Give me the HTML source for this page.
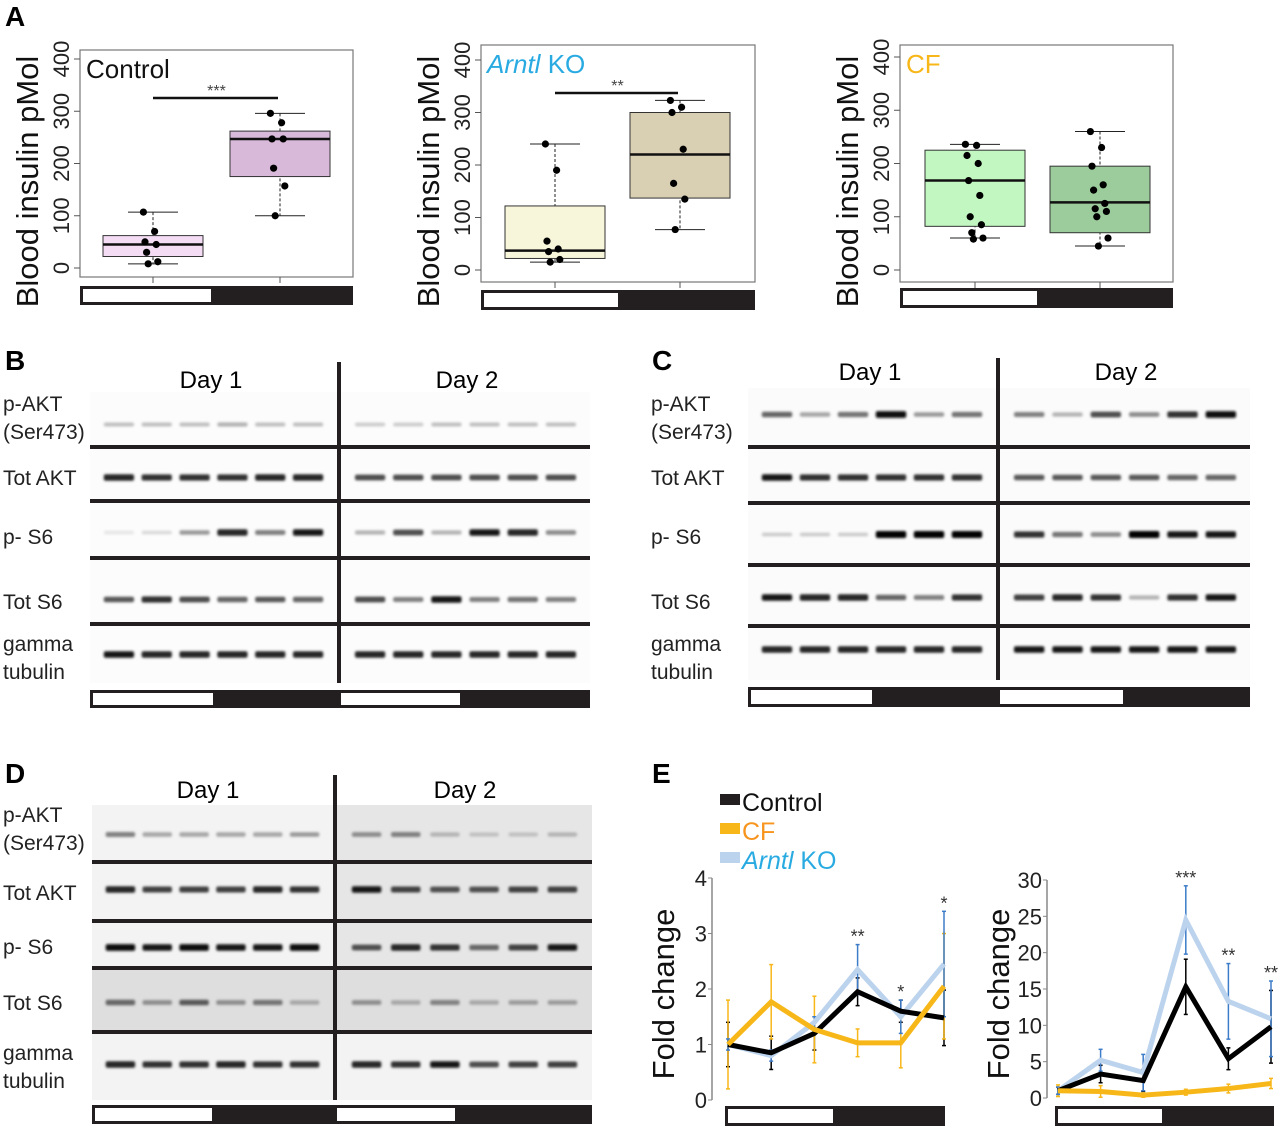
<!DOCTYPE html>
<html><head><meta charset="utf-8"><style>
html,body{margin:0;padding:0;background:#fff}
svg{display:block;font-family:"Liberation Sans",sans-serif}
</style></head><body>
<svg id="fig" width="1280" height="1128" viewBox="0 0 1280 1128" xmlns="http://www.w3.org/2000/svg">
<defs>
<filter id="blur" x="-20%" y="-100%" width="140%" height="300%"><feGaussianBlur stdDeviation="1.4"/></filter>
</defs>
<g id="panelA"></g>
<g id="blots"></g>
<g id="panelE"></g>
</svg>
<script>
const NS="http://www.w3.org/2000/svg";
function mk(tag,attrs,parent,txt){const e=document.createElementNS(NS,tag);for(const k in attrs)e.setAttribute(k,attrs[k]);if(txt!==undefined)e.textContent=txt;parent.appendChild(e);return e;}

// ===== Panel A data =====
const aGroups=["Control","Arntl KO","CF"];
const aQ1=[[22,175],[22,137],[82,70]];
const aMed=[[45,247],[37,220],[168,127]];
const aQ3=[[62,262],[122,300],[225,195]];
const aLo=[[8,100],[15,77],[60,45]];
const aHi=[[107,296],[240,323],[236,260]];
const aPts=[
 [[107,70,50,45,30,12,8],[296,278,247,247,191,157,100]],
 [[240,190,55,40,35,20,15],[323,310,300,230,165,135,77]],
 [[236,234,215,200,168,140,100,85,70,60,58],[260,230,195,160,150,125,115,110,100,60,45]]
];
const aSig=["***","**",""];
const aTicks=[0,100,200,300,400];
const aFill=[["#f4dcf4","#d9b9d9"],["#f8f6da","#d9cfb2"],["#c2f7c2","#9ccb9c"]];
const aTitleColor=["#111","#29abe2","#f7b718"];

const A=document.getElementById('panelA');
mk('text',{x:5,y:26,'font-size':28,'font-weight':'bold',},A,'A');
const aLayout=[{x0:80,x1:353,yt:50,yb:277,z:268,t:59,cx:[153,280],bar:[286,305,211]},
 {x0:481,x1:755,yt:45,yb:282,z:270,t:60,cx:[555,680],bar:[290,310,618]},
 {x0:900,x1:1173,yt:45,yb:282,z:270,t:57,cx:[975,1100],bar:[288,308,1037]}];
aLayout.forEach((L,g)=>{
  const G=mk('g',{},A);
  
  
  const y=v=>L.z-(L.z-L.t)*v/400;
  mk('rect',{x:L.x0,y:L.yt,width:L.x1-L.x0,height:L.yb-L.yt,fill:'none',stroke:'#777','stroke-width':1.2},G);
  aTicks.forEach(t=>{
    mk('line',{x1:L.x0-6,x2:L.x0,y1:y(t),y2:y(t),stroke:'#555'},G);
    const tx=mk('text',{x:L.x0-11,y:y(t),'font-size':22,'text-anchor':'middle',transform:`rotate(-90 ${L.x0-11} ${y(t)})`,fill:'#222'},G,t);
    
    
  });
  L.cx.forEach(c=>mk('line',{x1:c,x2:c,y1:L.yb,y2:L.yb+6,stroke:'#555'},G));
  const yc=(L.yt+L.yb)/2+18;
  const yl=mk('text',{x:L.x0-42,y:yc,'font-size':31,'text-anchor':'middle',transform:`rotate(-90 ${L.x0-42} ${yc})`,fill:'#111'},G,'Blood insulin pMol');
  
  
  const tt=mk('text',{x:L.x0+6,y:L.yt+28,'font-size':26,fill:aTitleColor[g]},G);
  
  
  if(g===1){mk('tspan',{'font-style':'italic'},tt,'Arntl');mk('tspan',{},tt,' KO');}else tt.textContent=aGroups[g];
  if(aSig[g]){
    mk('line',{x1:L.cx[0],x2:L.cx[1]-2,y1:L.yt+48,y2:L.yt+48,stroke:'#111','stroke-width':2.5},G);
    mk('text',{x:(L.cx[0]+L.cx[1])/2,y:L.yt+46,'font-size':16,'text-anchor':'middle',fill:'#444'},G,aSig[g]);
  }
  [0,1].forEach(k=>{
    const c=L.cx[k],hw=50;
    mk('line',{x1:c,x2:c,y1:y(aHi[g][k]),y2:y(aLo[g][k]),stroke:'#222','stroke-dasharray':'3,2'},G);
    mk('line',{x1:c-25,x2:c+25,y1:y(aHi[g][k]),y2:y(aHi[g][k]),stroke:'#222'},G);
    mk('line',{x1:c-25,x2:c+25,y1:y(aLo[g][k]),y2:y(aLo[g][k]),stroke:'#222'},G);
    const b=mk('rect',{x:c-hw,y:y(aQ3[g][k]),width:hw*2,height:y(aQ1[g][k])-y(aQ3[g][k]),fill:aFill[g][k],stroke:'#333'},G);
    
    
    mk('line',{x1:c-hw,x2:c+hw,y1:y(aMed[g][k]),y2:y(aMed[g][k]),stroke:'#111','stroke-width':2.5},G);
    aPts[g][k].forEach((v,i)=>{
      const p=mk('circle',{cx:c+((i*7)%13-6)*1.6,cy:y(v),r:3.6,fill:'#000'},G);
      
      
    });
  });
  mk('rect',{x:L.x0,y:L.bar[0],width:L.x1-L.x0,height:L.bar[1]-L.bar[0],fill:'#231f20'},G);
  mk('rect',{x:L.x0+3,y:L.bar[0]+3,width:L.bar[2]-L.x0-3,height:L.bar[1]-L.bar[0]-6,fill:'#fff'},G);
});

// ===== Blots =====
const rowNames=[["p-AKT","(Ser473)"],["Tot AKT"],["p- S6"],["Tot S6"],["gamma","tubulin"]];
const blotB=[[.25,.25,.25,.3,.25,.25,.2,.2,.25,.25,.25,.25],[.85,.8,.8,.8,.85,.85,.7,.7,.7,.7,.7,.7],[.1,.15,.4,.85,.5,.9,.3,.7,.3,.9,.85,.45],[.65,.8,.7,.6,.65,.6,.7,.5,.9,.5,.55,.5],[.9,.85,.85,.85,.85,.85,.85,.85,.85,.85,.85,.85]];
const blotC=[[.6,.35,.55,.95,.4,.55,.5,.3,.7,.45,.8,.95],[.9,.8,.8,.8,.8,.8,.65,.65,.65,.65,.6,.6],[.2,.2,.2,1,1,1,.8,.55,.45,1,.9,.9],[.9,.85,.85,.6,.5,.8,.75,.85,.8,.3,.8,.9],[.85,.85,.85,.85,.85,.85,.9,.9,.9,.9,.9,.9]];
const blotD=[[.5,.35,.35,.35,.35,.4,.45,.5,.3,.25,.25,.3],[.85,.75,.75,.75,.85,.8,.9,.75,.7,.7,.75,.75],[.95,.9,.95,.9,.9,.95,.7,.85,.8,.6,.75,.9],[.6,.45,.65,.45,.55,.35,.45,.35,.5,.35,.4,.4],[.85,.8,.8,.85,.8,.8,.85,.8,.9,.7,.75,.75]];
const BL=document.getElementById('blots');
const blotLayouts=[
 {name:'b',lab:'B',lx:5,ly:370,x0:90,x1:590,mid:339,top:362,bot:683,seps:[447,501,558,624],bands:[425,478,533,600,655],labx:3,laby:[404,478,537,602,644],day:[211,467,380],bar:[690,708,213,460],data:blotB,bg:'#fcfcfc'},
 {name:'c',lab:'C',lx:652,ly:370,x0:748,x1:1250,mid:998,top:358,bot:680,seps:[447,503,565,626],bands:[415,478,535,598,650],labx:651,laby:[404,478,537,602,644],day:[870,1126,372],bar:[687,707,872,1123],data:blotC,bg:'#fbfbfb'},
 {name:'d',lab:'D',lx:5,ly:783,x0:92,x1:592,mid:335,top:775,bot:1100,seps:[862,921,968,1032],bands:[835,890,948,1003,1065],labx:3,laby:[815,893,947,1003,1053],day:[208,465,790],bar:[1105,1124,212,455],data:blotD,bg:'#f3f3f3'}
];
blotLayouts.forEach(P=>{
  const G=mk('g',{},BL);
  
  
  mk('text',{x:P.lx,y:P.ly,'font-size':28,'font-weight':'bold'},G,P.lab);
  mk('rect',{x:P.x0,y:P.top+30,width:P.x1-P.x0,height:P.bot-P.top-30,fill:P.bg},G);
  if(P.name==='d'){mk('rect',{x:P.mid,y:P.top+30,width:P.x1-P.mid,height:P.seps[3]-P.top-30,fill:'#e6e6e6'},G);mk('rect',{x:P.x0,y:P.seps[2],width:P.x1-P.x0,height:P.seps[3]-P.seps[2],fill:'#dedede'},G);}
  const lanes=[];
  for(let d=0;d<2;d++){const a=d?P.mid+12:P.x0+10,b=d?P.x1-10:P.mid-12,w=(b-a)/6;for(let i=0;i<6;i++)lanes.push(a+w*(i+.5));}
  const lw=(P.mid-P.x0-22)/6*0.8;
  P.data.forEach((row,r)=>{
    row.forEach((v,i)=>{
      const g=Math.round(255*(1-v));
      const band=mk('rect',{x:lanes[i]-lw/2,y:P.bands[r]-2-v*2,width:lw,height:3+v*4,rx:2,fill:`rgb(${g},${g},${g})`,filter:'url(#blur)'},G);
      
      
    });
    rowNames[r].forEach((t,j)=>{
      const tx=mk('text',{x:P.labx,y:P.laby[r]+j*28+7,'font-size':21,fill:'#222'},G,t);
      
      
    });
  });
  P.seps.forEach(s=>mk('line',{x1:P.x0,x2:P.x1,y1:s,y2:s,stroke:'#231f20','stroke-width':4},G));
  mk('line',{x1:P.mid,x2:P.mid,y1:P.top,y2:P.bot,stroke:'#231f20','stroke-width':4},G);
  mk('text',{x:P.day[0],y:P.day[2]+8,'font-size':24,'text-anchor':'middle'},G,'Day 1');
  mk('text',{x:P.day[1],y:P.day[2]+8,'font-size':24,'text-anchor':'middle'},G,'Day 2');
  mk('rect',{x:P.x0,y:P.bar[0],width:P.x1-P.x0,height:P.bar[1]-P.bar[0],fill:'#231f20'},G);
  mk('rect',{x:P.x0+3,y:P.bar[0]+3,width:P.bar[2]-P.x0-3,height:P.bar[1]-P.bar[0]-6,fill:'#fff'},G);
  mk('rect',{x:P.mid+2,y:P.bar[0]+3,width:P.bar[3]-P.mid-2,height:P.bar[1]-P.bar[0]-6,fill:'#fff'},G);
});

// ===== Panel E data =====
const eSeries=["Control","CF","Arntl KO"];
const eColors=["#000","#f7b718","#bcd3ee"];
const eErrColors=["#000","#f7b718","#3d7cc9"];
const leftCtrl=[1,0.85,1.2,1.95,1.6,1.48];
const leftCF=[1,1.77,1.27,1.03,1.03,2.05];
const leftArntl=[1,0.8,1.4,2.35,1.5,2.45];
const leftCtrlErr=[0.4,0.3,0.3,0.25,0.2,0.5];
const leftCFErr=[0.8,0.67,0.6,0.25,0.45,0.95];
const leftArntlErr=[0.1,0.1,0.1,0.45,0.3,0.95];
const rightCtrl=[1,3.3,2.4,15.3,5.4,9.8];
const rightCF=[1,0.9,0.4,0.8,1.3,2.0];
const rightArntl=[1,5.2,3.5,24.5,13.3,10.9];
const rightCtrlErr=[0.5,1.2,1.5,3.8,1.5,5];
const rightCFErr=[0.8,0.8,0.3,0.4,0.6,0.7];
const rightArntlErr=[0.5,1.5,2.5,4.7,5.2,5.2];
const leftTicks=[0,1,2,3,4];
const rightTicks=[0,5,10,15,20,25,30];
const leftStars=["","","","**","*","*"];
const rightStars=["","","","***","**","**"];

const E=document.getElementById('panelE');
mk('text',{x:652,y:783,'font-size':28,'font-weight':'bold'},E,'E');
const leg=mk('g',{},E);


[["Control","#231f20","#111"],["CF","#f7b718","#f7941d"],["Arntl KO","#bcd3ee","#29abe2"]].forEach((l,i)=>{
  const yy=803+i*29;
  mk('rect',{x:720,y:yy-9,width:20,height:11,fill:l[1]},leg);
  const t=mk('text',{x:742,y:yy+8,'font-size':25,fill:l[2]},leg);
  
  
  if(i===2){mk('tspan',{'font-style':'italic'},t,'Arntl');mk('tspan',{},t,' KO');}else t.textContent=l[0];
});
function lineChart(name,ax,x0,dx,yz,yt,maxv,ticks,series,errs,stars,bar){
  const G=mk('g',{},E);
  
  
  const X=i=>x0+dx*i, Y=v=>yz-(yz-yt)*v/maxv;
  mk('line',{x1:ax,x2:ax,y1:yt,y2:yz,stroke:'#888','stroke-width':1.5},G);
  ticks.forEach(t=>{
    mk('line',{x1:ax-4,x2:ax,y1:Y(t),y2:Y(t),stroke:'#888'},G);
    const tx=mk('text',{x:ax-5,y:Y(t)+8,'font-size':22,'text-anchor':'end',fill:'#222'},G,t);
    
    
  });
  const yc=(yt+yz)/2+5, xl=ax-38;
  const yl=mk('text',{x:xl,y:yc,'font-size':31,'text-anchor':'middle',transform:`rotate(-90 ${xl} ${yc})`,fill:'#111'},G,'Fold change');
  
  
  series.forEach((s,k)=>{
    s.forEach((v,i)=>{
      const e=errs[k][i];
      mk('line',{x1:X(i),x2:X(i),y1:Y(v+e),y2:Y(Math.max(0,v-e)),stroke:eErrColors[k],'stroke-width':1.5},G);
      mk('line',{x1:X(i)-2,x2:X(i)+2,y1:Y(v+e),y2:Y(v+e),stroke:eErrColors[k],'stroke-width':1.5},G);
      mk('line',{x1:X(i)-2,x2:X(i)+2,y1:Y(Math.max(0,v-e)),y2:Y(Math.max(0,v-e)),stroke:eErrColors[k],'stroke-width':1.5},G);
    });
  });
  [2,0,1].forEach(k=>{
    const p=mk('polyline',{points:series[k].map((v,i)=>X(i)+','+Y(v)).join(' '),fill:'none',stroke:eColors[k],'stroke-width':5,'stroke-linejoin':'miter'},G);
    
    
  });
  stars.forEach((s,i)=>{
    if(!s)return;
    const top=Math.max(...series.map((ser,k)=>ser[i]+errs[k][i]));
    mk('text',{x:X(i),y:Y(top)-2,'font-size':18,'text-anchor':'middle',fill:'#333'},G,s);
  });
  mk('rect',{x:bar[0],y:bar[2],width:bar[1]-bar[0],height:bar[3]-bar[2],fill:'#231f20'},G);
  mk('rect',{x:bar[0]+3,y:bar[2]+3,width:bar[4]-bar[0]-3,height:bar[3]-bar[2]-6,fill:'#fff'},G);
}
lineChart('fold-change-chart-left',712,728,43.2,1100,878,4,leftTicks,[leftCtrl,leftCF,leftArntl],[leftCtrlErr,leftCFErr,leftArntlErr],leftStars,[725,945,1106,1126,833]);
lineChart('fold-change-chart-right',1047,1058,42.6,1098,880,30,rightTicks,[rightCtrl,rightCF,rightArntl],[rightCtrlErr,rightCFErr,rightArntlErr],rightStars,[1055,1274,1106,1126,1162]);
</script>
</body></html>
